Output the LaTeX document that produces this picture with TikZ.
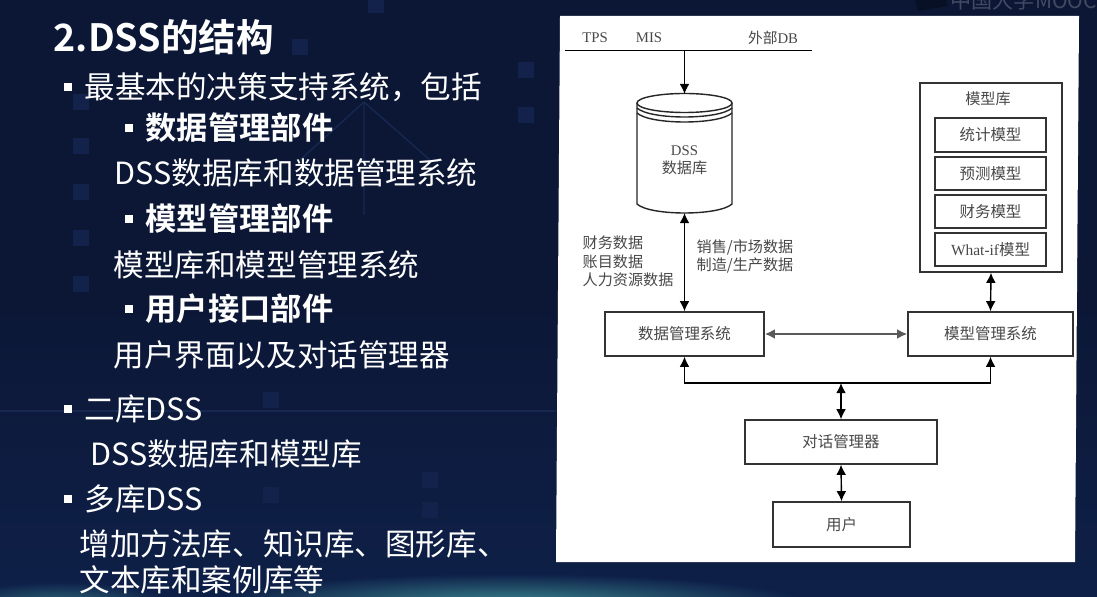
\documentclass[tikz,border=0pt]{standalone}
\usepackage{fontspec}
\usetikzlibrary{arrows.meta}
\setmainfont{Liberation Serif}
\newfontfamily\cjk{Noto Sans CJK SC}
\newfontfamily\cjkb{Noto Sans CJK SC Bold}
\definecolor{bgnavy}{HTML}{0C1736}
\definecolor{bgblue}{HTML}{0E2048}
\definecolor{bgsq}{HTML}{12224B}
\definecolor{bgline}{HTML}{16284F}
\definecolor{bgteal}{HTML}{3A868F}
\definecolor{inkgray}{HTML}{484848}
\tikzset{
  slide/.style={text=white,anchor=west,inner sep=0pt,font=\cjk\fontsize{17.4}{20}\selectfont},
  slidehead/.style={slide,font=\cjkb\fontsize{17.8}{20}\selectfont},
  bulletbox/.style={fill=white,minimum size=.15cm,inner sep=0pt},
  box/.style={draw=black!80,line width=.8pt,fill=white,inner sep=0pt,text=inkgray,font=\cjk\fontsize{8.8}{10}\selectfont},
  lbl/.style={inner sep=0pt,text=inkgray,font=\fontsize{8.4}{10}\selectfont},
  lblcn/.style={lbl,font=\cjk\fontsize{8.6}{10}\selectfont}
}
\begin{document}
\begin{tikzpicture}[x=.02cm,y=-.02cm,>={Latex[length=5.8pt,width=5.6pt]},line width=.8pt]
        \useasboundingbox (0,0) rectangle (1097,597);
        % background
        \fill[bgnavy] (0,0) rectangle (1097,597);
        \fill[bottom color=bgblue,top color=bgnavy] (0,300) rectangle (1097,597);
        \foreach \sqx/\sqy in {81/102,81/146,81/192,81/238,81/284,300/47,376/5,526/70,526/115,271/400,271/495,430/480,430/510}
            \fill[bgsq] (\sqx-8,\sqy-8) rectangle (\sqx+8,\sqy+8);
        \shade[inner color=bgteal,outer color=bgblue] (510,604) ellipse [x radius=300,y radius=30];
        \shade[inner color=bgteal!70!bgblue,outer color=bgblue] (60,604) ellipse [x radius=110,y radius=22];
        \draw[bgline] (364,102) -- (300,160) (364,102) -- (430,160) (364,102) -- (364,215);
        \draw[bgline] (0,411) -- (556,411);
        % logo, cut by the top edge
        \fill[bgnavy!70!black] (915,0) -- (947,0) -- (947,6) -- (918,11) -- cycle;
        \node[anchor=west,inner sep=0pt,text=white!22!bgnavy,font=\cjk\fontsize{12}{12}\selectfont] (logo) at (950,0) {中国大学MOOC};

        % left text
        \node[slidehead,font=\cjkb\fontsize{21.4}{24}\selectfont] (title) at (53,37) {2.DSS的结构};
        \node[bulletbox] (b1) at (68,87) {};   \node[slide] (t1) at (84,87) {最基本的决策支持系统，包括};
        \node[bulletbox] (b2) at (129,128) {}; \node[slidehead] (t2) at (145,128) {数据管理部件};
        \node[slide] (t3) at (114,173) {DSS数据库和数据管理系统};
        \node[bulletbox] (b3) at (129,219) {}; \node[slidehead] (t4) at (145,219) {模型管理部件};
        \node[slide] (t5) at (113,265) {模型库和模型管理系统};
        \node[bulletbox] (b4) at (129,309) {}; \node[slidehead] (t6) at (145,309) {用户接口部件};
        \node[slide] (t7) at (113,355) {用户界面以及对话管理器};
        \node[bulletbox] (b5) at (68,409) {};  \node[slide] (t8) at (84,409) {二库DSS};
        \node[slide] (t9) at (90,454) {DSS数据库和模型库};
        \node[bulletbox] (b6) at (68,499) {};  \node[slide] (t10) at (84,499) {多库DSS};
        \node[slide] (t11) at (79,544) {增加方法库、知识库、图形库、};
        \node[slide] (t12) at (79,580) {文本库和案例库等};

        % white panel
        \fill[white] (560,16) -- (1079,16) -- (1075,562) -- (556,562) -- cycle;

        % sources
        \node[lbl] (tps) at (595,38) {TPS};
        \node[lbl] (mis) at (649,38) {MIS};
        \node[lbl] (ext) at (773,38) {{\cjk 外部}DB};
        \coordinate (busl) at (565,50.5);
        \coordinate (busr) at (812,50.5);
        \coordinate (busm) at (684.5,50.5);
        \draw[line width=1pt] (busl) -- (busr);

        % database
        \coordinate (dbtop) at (684.5,94);
        \coordinate (dbbot) at (684.5,213);
        \draw[fill=white,draw=black!85] (637,103) -- (637,204) .. controls (650,216) and (719,216) .. (732,204) -- (732,103);
        \draw[draw=black!85] (684.5,103) ellipse [x radius=47.5,y radius=9.5];
        \draw[draw=black!85] (637,108) .. controls (650,120) and (719,120) .. (732,108);
        \draw[draw=black!85] (637,113) .. controls (650,125) and (719,125) .. (732,113);
        \node[lbl] (dssa) at (684.5,151) {DSS};
        \node[lblcn] (dssb) at (684.5,168) {数据库};
        \draw[->] (busm) to (dbtop);

        % data labels
        \node[lblcn,anchor=west] (fin) at (582,243) {财务数据};
        \node[lblcn,anchor=west] (acc) at (582,262) {账目数据};
        \node[lblcn,anchor=west] (hr) at (582,280) {人力资源数据};
        \node[lblcn,anchor=west] (sale) at (696,247) {销售/市场数据};
        \node[lblcn,anchor=west] (make) at (696,266) {制造/生产数据};

        % model base
        \node[box,minimum width=2.84cm,minimum height=3.78cm] (mbase) at (991,177.5) {};
        \node[lblcn] (mbname) at (988,99) {模型库};
        \node[box,minimum width=2.22cm,minimum height=.68cm] (stat) at (990.5,135) {统计模型};
        \node[box,minimum width=2.22cm,minimum height=.66cm] (pred) at (990.5,173.5) {预测模型};
        \node[box,minimum width=2.22cm,minimum height=.66cm] (fmod) at (990.5,211.5) {财务模型};
        \node[box,minimum width=2.22cm,minimum height=.66cm] (what) at (990.5,249.5) {{\fontspec{Liberation Serif}What-if}模型};

        % systems
        \node[box,minimum width=3.18cm,minimum height=.88cm] (dbms) at (684.5,334) {数据管理系统};
        \node[box,minimum width=3.3cm,minimum height=.88cm] (mbms) at (990.5,334) {模型管理系统};
        \node[box,minimum width=3.84cm,minimum height=.88cm] (dlg) at (841,442) {对话管理器};
        \node[box,minimum width=2.74cm,minimum height=.9cm] (user) at (841.5,524.5) {用户};
        \coordinate (junc) at (841,383);

        \draw[<->] (dbbot) to (dbms.north);
        \draw[<->] (mbase.south) to (mbms.north);
        \draw[<->,draw=black!65,line width=1.1pt] (dbms.east) to (mbms.west);
        \draw[<->] (dbms.south) |- (junc) -| (mbms.south);
        \draw[<->] (junc) to (dlg.north);
        \draw[<->] (dlg.south) to (user.north);
    \end{tikzpicture}
\end{document}
